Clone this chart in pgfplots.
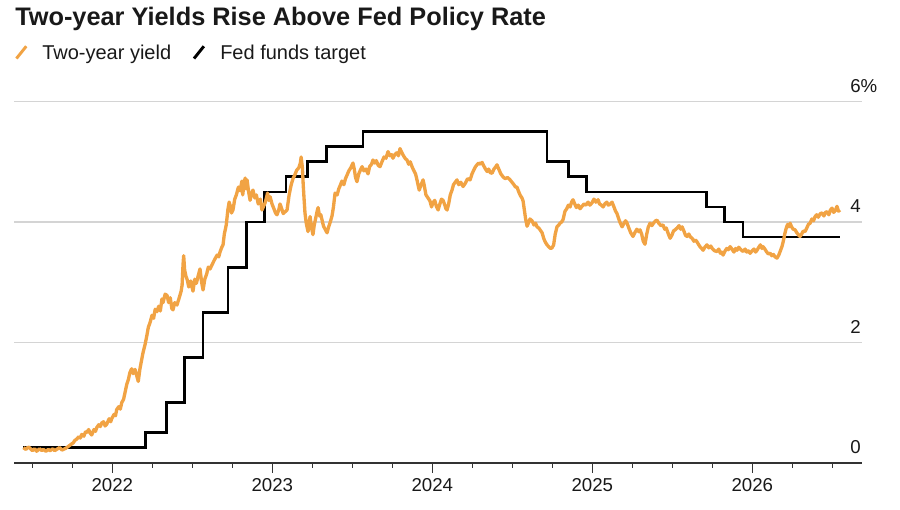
\documentclass[border=0pt]{standalone}
\usepackage{fontspec}
\setmainfont{Liberation Sans}
\usepackage{pgfplots}
\pgfplotsset{compat=1.18}
\definecolor{yieldorange}{RGB}{241,163,68}
\definecolor{gridgray}{RGB}{212,212,212}
\definecolor{axisgray}{RGB}{51,51,51}
\definecolor{txt}{RGB}{25,25,25}
\begin{document}
\begin{tikzpicture}
\path[use as bounding box] (0,0) rectangle (675pt,382.5pt);
\begin{axis}[
  at={(10.5pt,35.5pt)}, anchor=south west,
  scale only axis, width=635.8pt, height=270.75pt,
  xmin=2021.3855, xmax=2026.6836, ymin=0, ymax=6,
  axis x line*=bottom, axis y line*=right,
  y axis line style={draw=none},
  x axis line style={axisgray, line width=1.5pt},
  xtick={2022,2023,2024,2025,2026},
  xticklabels={2022,2023,2024,2025,2026},
  minor xtick={2021.5,2021.75,2022.25,2022.5,2022.75,2023.25,2023.5,2023.75,2024.25,2024.5,2024.75,2025.25,2025.5,2025.75,2026.25,2026.5},
  xtick align=outside,
  major tick length=7.5pt, minor tick length=3.75pt,
  x tick style={axisgray, line width=1.2pt},
  ytick={0,2,4,6}, yticklabels={0,2,4,6\%},
  y tick style={draw=none},
  ymajorgrids, grid style={gridgray, line width=0.9pt},
  xticklabel style={font=\fontsize{14}{16}\selectfont, text=txt, anchor=base, inner sep=0pt, yshift=-13.8pt},
  yticklabel style={font=\fontsize{14}{16}\selectfont, text=txt, anchor=base west, inner sep=0pt, xshift=-8.8pt, yshift=6.8pt},
  clip=false,
  /pgf/number format/assume math mode=true,
]
\addplot[black, line width=2.1pt, const plot, no marks] table {
x y
2021.444 0.25
2022.205 0.50
2022.337 1.00
2022.452 1.75
2022.567 2.50
2022.723 3.25
2022.838 4.00
2022.953 4.50
2023.085 4.75
2023.222 5.00
2023.337 5.25
2023.567 5.50
2024.716 5.00
2024.853 4.75
2024.964 4.50
2025.712 4.25
2025.827 4.00
2025.942 3.75
2026.548 3.75
};
\addplot[yieldorange, line width=2.5pt, line join=round, no marks] table {
x y
2021.444 0.25
2021.460 0.22
2021.475 0.26
2021.486 0.24
2021.500 0.20
2021.515 0.23
2021.527 0.19
2021.545 0.23
2021.560 0.20
2021.569 0.22
2021.585 0.19
2021.600 0.22
2021.611 0.20
2021.628 0.23
2021.640 0.20
2021.652 0.22
2021.670 0.25
2021.685 0.21
2021.694 0.22
2021.710 0.24
2021.725 0.27
2021.740 0.30
2021.756 0.33
2021.766 0.37
2021.777 0.39
2021.790 0.43
2021.800 0.41
2021.809 0.47
2021.822 0.44
2021.832 0.51
2021.840 0.50
2021.852 0.55
2021.862 0.49
2021.871 0.46
2021.885 0.55
2021.895 0.52
2021.902 0.58
2021.915 0.63
2021.925 0.60
2021.934 0.66
2021.945 0.68
2021.955 0.61
2021.965 0.64
2021.980 0.73
2021.990 0.68
2021.996 0.73
2022.010 0.80
2022.020 0.78
2022.027 0.88
2022.040 0.93
2022.050 0.89
2022.059 1.00
2022.070 1.05
2022.079 1.16
2022.090 1.30
2022.100 1.38
2022.110 1.50
2022.121 1.56
2022.130 1.48
2022.142 1.55
2022.152 1.45
2022.162 1.35
2022.172 1.55
2022.184 1.72
2022.192 1.83
2022.205 1.97
2022.215 2.10
2022.225 2.25
2022.236 2.33
2022.248 2.45
2022.258 2.40
2022.268 2.55
2022.279 2.51
2022.290 2.60
2022.300 2.52
2022.310 2.72
2022.317 2.66
2022.330 2.80
2022.342 2.78
2022.352 2.66
2022.362 2.74
2022.372 2.56
2022.379 2.54
2022.390 2.66
2022.404 2.62
2022.418 2.74
2022.430 2.85
2022.436 2.95
2022.442 3.30
2022.446 3.44
2022.452 3.20
2022.460 3.10
2022.467 3.05
2022.478 2.92
2022.490 3.02
2022.504 2.85
2022.515 3.05
2022.525 2.98
2022.538 3.12
2022.548 3.22
2022.558 3.00
2022.567 2.87
2022.578 3.05
2022.590 3.14
2022.600 3.25
2022.611 3.22
2022.625 3.30
2022.640 3.38
2022.655 3.45
2022.665 3.42
2022.673 3.50
2022.684 3.58
2022.692 3.62
2022.700 3.80
2022.712 3.95
2022.722 4.20
2022.730 4.33
2022.736 4.28
2022.745 4.15
2022.754 4.20
2022.765 4.38
2022.775 4.45
2022.788 4.58
2022.798 4.52
2022.810 4.68
2022.815 4.45
2022.822 4.62
2022.830 4.73
2022.836 4.55
2022.842 4.70
2022.852 4.50
2022.861 4.36
2022.870 4.48
2022.879 4.53
2022.890 4.40
2022.900 4.45
2022.912 4.30
2022.925 4.38
2022.935 4.20
2022.942 4.24
2022.955 4.32
2022.963 4.40
2022.970 4.48
2022.978 4.36
2022.986 4.42
2022.998 4.30
2023.010 4.22
2023.020 4.15
2023.029 4.12
2023.040 4.20
2023.048 4.30
2023.055 4.25
2023.068 4.14
2023.080 4.17
2023.092 4.20
2023.105 4.45
2023.118 4.62
2023.129 4.72
2023.140 4.78
2023.152 4.86
2023.165 4.90
2023.175 4.98
2023.180 5.08
2023.188 4.90
2023.193 4.62
2023.198 4.40
2023.204 4.15
2023.212 3.98
2023.223 3.84
2023.230 3.98
2023.236 4.09
2023.245 3.90
2023.254 3.79
2023.262 3.95
2023.270 4.05
2023.280 4.18
2023.286 4.24
2023.295 4.10
2023.303 4.12
2023.311 4.03
2023.320 3.93
2023.330 3.88
2023.342 3.82
2023.352 3.92
2023.362 4.00
2023.373 4.10
2023.382 4.25
2023.392 4.48
2023.405 4.45
2023.415 4.55
2023.423 4.60
2023.435 4.68
2023.447 4.62
2023.457 4.72
2023.467 4.78
2023.478 4.85
2023.490 4.90
2023.504 4.98
2023.512 4.88
2023.520 4.74
2023.529 4.67
2023.540 4.80
2023.550 4.86
2023.561 4.92
2023.572 4.85
2023.585 4.88
2023.598 4.80
2023.608 4.92
2023.620 4.96
2023.629 5.03
2023.640 4.98
2023.650 5.02
2023.662 4.94
2023.673 4.92
2023.685 5.00
2023.698 5.08
2023.710 5.06
2023.723 5.17
2023.735 5.10
2023.745 5.12
2023.754 5.06
2023.765 5.12
2023.778 5.15
2023.788 5.10
2023.798 5.22
2023.808 5.16
2023.820 5.10
2023.832 5.05
2023.842 5.03
2023.852 4.96
2023.862 5.00
2023.873 4.92
2023.885 4.85
2023.895 4.80
2023.904 4.70
2023.912 4.60
2023.918 4.53
2023.930 4.62
2023.942 4.70
2023.950 4.60
2023.960 4.45
2023.973 4.40
2023.985 4.35
2023.995 4.25
2024.004 4.32
2024.015 4.36
2024.025 4.26
2024.036 4.20
2024.047 4.30
2024.057 4.38
2024.067 4.36
2024.078 4.28
2024.085 4.22
2024.092 4.20
2024.102 4.30
2024.112 4.45
2024.123 4.53
2024.132 4.62
2024.143 4.66
2024.154 4.70
2024.165 4.62
2024.178 4.66
2024.192 4.59
2024.205 4.64
2024.220 4.72
2024.236 4.70
2024.248 4.80
2024.260 4.87
2024.270 4.92
2024.279 4.95
2024.290 4.98
2024.300 4.96
2024.311 4.99
2024.322 4.93
2024.332 4.88
2024.342 4.84
2024.352 4.88
2024.362 4.82
2024.373 4.81
2024.385 4.88
2024.397 4.92
2024.404 4.95
2024.415 4.88
2024.428 4.80
2024.442 4.75
2024.455 4.72
2024.470 4.74
2024.486 4.70
2024.498 4.66
2024.510 4.62
2024.520 4.58
2024.529 4.58
2024.540 4.50
2024.550 4.44
2024.560 4.40
2024.567 4.35
2024.575 4.20
2024.583 4.05
2024.592 3.93
2024.600 3.98
2024.610 4.05
2024.623 4.02
2024.635 3.95
2024.645 3.98
2024.654 3.92
2024.665 3.90
2024.676 3.86
2024.686 3.82
2024.697 3.72
2024.707 3.66
2024.717 3.62
2024.730 3.58
2024.740 3.56
2024.748 3.57
2024.758 3.62
2024.768 3.80
2024.779 3.92
2024.790 3.95
2024.798 3.98
2024.808 4.00
2024.817 4.04
2024.829 4.18
2024.840 4.22
2024.850 4.28
2024.861 4.25
2024.870 4.33
2024.879 4.37
2024.890 4.30
2024.900 4.24
2024.912 4.28
2024.923 4.22
2024.935 4.26
2024.948 4.30
2024.960 4.28
2024.973 4.33
2024.985 4.28
2024.998 4.32
2025.010 4.38
2025.022 4.33
2025.036 4.37
2025.045 4.30
2025.057 4.28
2025.067 4.25
2025.078 4.30
2025.090 4.33
2025.100 4.28
2025.112 4.30
2025.123 4.33
2025.135 4.25
2025.145 4.18
2025.154 4.14
2025.165 4.05
2025.175 3.98
2025.186 3.92
2025.198 3.98
2025.208 4.02
2025.217 3.98
2025.228 3.90
2025.240 3.82
2025.254 3.76
2025.265 3.82
2025.278 3.88
2025.290 3.84
2025.298 3.87
2025.308 3.80
2025.318 3.68
2025.329 3.63
2025.340 3.80
2025.350 3.92
2025.361 3.98
2025.372 3.94
2025.385 3.99
2025.395 4.02
2025.404 4.03
2025.415 3.98
2025.428 3.94
2025.442 3.95
2025.452 3.88
2025.462 3.90
2025.475 3.80
2025.486 3.73
2025.497 3.78
2025.507 3.85
2025.517 3.87
2025.530 3.90
2025.542 3.94
2025.552 3.88
2025.561 3.92
2025.572 3.85
2025.582 3.78
2025.592 3.76
2025.603 3.80
2025.613 3.75
2025.623 3.73
2025.635 3.68
2025.645 3.70
2025.654 3.67
2025.665 3.62
2025.675 3.58
2025.684 3.56
2025.692 3.53
2025.703 3.58
2025.716 3.62
2025.728 3.57
2025.740 3.60
2025.752 3.55
2025.765 3.52
2025.779 3.51
2025.790 3.55
2025.800 3.48
2025.808 3.50
2025.817 3.45
2025.830 3.52
2025.840 3.56
2025.850 3.54
2025.861 3.59
2025.872 3.55
2025.885 3.50
2025.895 3.56
2025.904 3.53
2025.915 3.58
2025.928 3.54
2025.942 3.51
2025.955 3.55
2025.965 3.50
2025.975 3.52
2025.986 3.48
2025.998 3.52
2026.010 3.55
2026.020 3.50
2026.029 3.53
2026.040 3.58
2026.050 3.62
2026.060 3.56
2026.067 3.59
2026.078 3.55
2026.090 3.50
2026.100 3.47
2026.111 3.48
2026.122 3.44
2026.132 3.46
2026.142 3.42
2026.154 3.40
2026.165 3.45
2026.175 3.52
2026.186 3.60
2026.195 3.70
2026.204 3.82
2026.212 3.90
2026.220 3.96
2026.228 3.92
2026.236 3.98
2026.245 3.92
2026.255 3.88
2026.267 3.87
2026.278 3.82
2026.290 3.78
2026.298 3.76
2026.308 3.80
2026.318 3.85
2026.329 3.84
2026.340 3.90
2026.350 3.96
2026.361 3.98
2026.372 4.05
2026.382 4.02
2026.392 4.09
2026.402 4.12
2026.412 4.08
2026.425 4.14
2026.436 4.15
2026.447 4.10
2026.457 4.16
2026.467 4.17
2026.478 4.12
2026.488 4.20
2026.498 4.23
2026.508 4.16
2026.518 4.19
2026.529 4.26
2026.538 4.18
2026.548 4.20
};
\end{axis}
\node[anchor=base west, inner sep=0pt, text=txt, font=\fontsize{19}{22}\selectfont\bfseries] at (11.25pt,363pt) {Two-year Yields Rise Above Fed Policy Rate};
\draw[yieldorange, line width=2.2pt] (12.3pt,338.6pt) -- (19.7pt,347.8pt);
\node[anchor=base west, inner sep=0pt, text=txt, font=\fontsize{15}{18}\selectfont] at (31.5pt,337.5pt) {Two-year yield};
\draw[black, line width=2.2pt] (145.5pt,338.6pt) -- (152.9pt,347.8pt);
\node[anchor=base west, inner sep=0pt, text=txt, font=\fontsize{15}{18}\selectfont] at (165pt,337.5pt) {Fed funds target};
\end{tikzpicture}
\end{document}
